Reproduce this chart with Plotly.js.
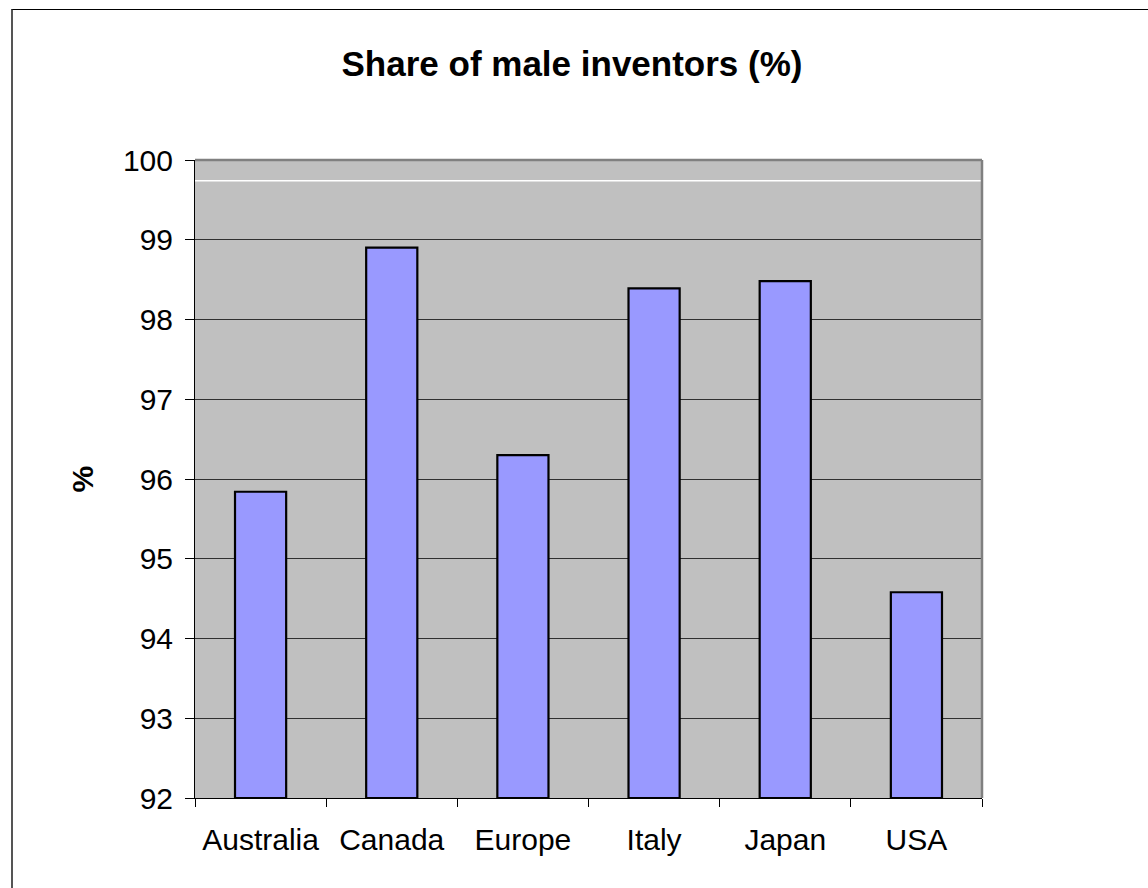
<!DOCTYPE html>
<html>
<head>
<meta charset="utf-8">
<script src="https://cdn.plot.ly/plotly-3.0.1.min.js"></script>
<style>
  html, body { margin: 0; padding: 0; background: #ffffff; }
  #frame { position: absolute; left: 11px; top: 9px; width: 1137px; height: 879px;
           border-top: 1.5px solid #000; border-left: 2px solid #555; box-sizing: border-box; }
  #chart { position: absolute; left: 0; top: 0; width: 1148px; height: 888px; }
</style>
</head>
<body>
<div id="chart"></div>
<div id="frame"></div>
<script>
const categories = ["Australia", "Canada", "Europe", "Italy", "Japan", "USA"];
const shareMale = [95.84, 98.9, 96.3, 98.39, 98.48, 94.58];
const yTicks = [92, 93, 94, 95, 96, 97, 98, 99, 100];
const baseline = 92;
const whiteLineValue = 99.74;

const trace = {
  type: "bar",
  x: categories,
  y: shareMale.map(v => v - baseline),
  base: baseline,
  marker: { color: "#9999ff", line: { color: "#000000", width: 2.2 } },
  hoverinfo: "x+y"
};

const layout = {
  width: 1148,
  height: 888,
  margin: { l: 195, r: 166, t: 160, b: 90 },
  paper_bgcolor: "#ffffff",
  plot_bgcolor: "#c0c0c0",
  font: { family: "Liberation Sans, Arial, sans-serif", color: "#000000" },
  title: {
    text: "<b>Share of male inventors (%)</b>",
    font: { size: 35, family: "Liberation Sans, Arial, sans-serif", color: "#000" },
    x: 572 / 1148, xanchor: "center", xref: "container",
    y: 1 - 64 / 888, yanchor: "middle", yref: "container"
  },
  bargap: 0.61,
  showlegend: false,
  xaxis: {
    type: "category",
    tickson: "boundaries",
    ticks: "outside",
    ticklen: 8,
    tickcolor: "#000",
    tickwidth: 1,
    showline: true,
    linecolor: "#000",
    linewidth: 1,
    showgrid: false,
    tickfont: { size: 30 },
    ticklabelstandoff: 15,
    range: [-0.5, 5.5]
  },
  yaxis: {
    range: [92, 100],
    tickvals: yTicks,
    ticktext: yTicks.map(String),
    ticks: "outside",
    ticklen: 9,
    tickcolor: "#000",
    tickwidth: 1,
    showline: true,
    linecolor: "#000",
    linewidth: 1,
    showgrid: true,
    gridcolor: "#303030",
    gridwidth: 1,
    zeroline: false,
    tickfont: { size: 30 },
    ticklabelstandoff: 6
  },
  annotations: [{
    text: "<b>%</b>",
    textangle: -90,
    xref: "paper", yref: "paper",
    x: -0.143, y: 0.5,
    xanchor: "center", yanchor: "middle",
    showarrow: false,
    font: { size: 30, color: "#000" }
  }],
  shapes: [
    { type: "line", xref: "paper", yref: "y", x0: 0, x1: 1, y0: whiteLineValue, y1: whiteLineValue,
      line: { color: "#ffffff", width: 1.5 }, layer: "below" },
    { type: "line", xref: "paper", yref: "paper", x0: 0, x1: 1, y0: 1, y1: 1,
      line: { color: "#808080", width: 2.5 } },
    { type: "line", xref: "paper", yref: "paper", x0: 1, x1: 1, y0: 0, y1: 1,
      line: { color: "#808080", width: 2.5 } }
  ]
};

Plotly.newPlot("chart", [trace], layout, { displayModeBar: false, staticPlot: true });
</script>
</body>
</html>
